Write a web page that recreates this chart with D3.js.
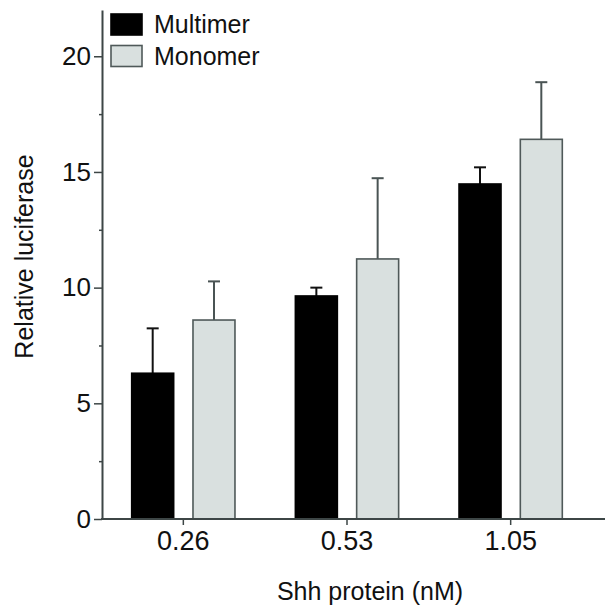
<!DOCTYPE html>
<html>
<head>
<meta charset="utf-8">
<script src="https://cdn.jsdelivr.net/npm/d3@7"></script>
<style>
  body { margin: 0; background: #fff; }
  text { font-family: "Liberation Sans", Arial, sans-serif; fill: #111; }
</style>
</head>
<body>
<div id="container"></div>
<script>
// Chart data
const categories = ["0.26", "0.53", "1.05"];
const seriesNames = ["Multimer", "Monomer"];
const multimerValues = [6.3, 9.64, 14.48];
const multimerErrors = [1.94, 0.36, 0.72];
const monomerValues = [8.6, 11.24, 16.41];
const monomerErrors = [1.67, 3.49, 2.47];
const yTicks = [0, 5, 10, 15, 20];
const yMinorTicks = [2.5, 7.5, 12.5, 17.5];

const width = 605;
const height = 609;
const marginTop = 10;
const marginBottom = 90;
const marginLeft = 102;
const plotRight = 592.5;

const fills = { Multimer: "#000000", Monomer: "#d9e0df" };
const strokes = { Multimer: "#000000", Monomer: "#4f5959" };
const errColors = { Multimer: "#111111", Monomer: "#4a5454" };

// Build rows for the grouped bars
const rows = categories.map((c, i) => ({
  cat: c,
  bars: [
    { key: "Multimer", value: multimerValues[i], err: multimerErrors[i] },
    { key: "Monomer", value: monomerValues[i], err: monomerErrors[i] }
  ]
}));

// Scales
const x0 = d3.scaleBand()
    .domain(categories)
    .range([marginLeft - 0.5, plotRight])
    .paddingInner(0.369)
    .paddingOuter(0.1845);

const x1 = d3.scaleBand()
    .domain(seriesNames)
    .range([0, x0.bandwidth()])
    .paddingInner(0.315);

const y = d3.scaleLinear()
    .domain([0, 22])
    .range([height - marginBottom, marginTop]);

const svg = d3.create("svg")
    .attr("width", width)
    .attr("height", height)
    .attr("viewBox", [0, 0, width, height]);

// Bars
const groups = svg.append("g")
  .selectAll("g")
  .data(rows)
  .join("g")
    .attr("transform", d => `translate(${x0(d.cat)},0)`);

// error bars (drawn first so bar tops cover the stem)
groups.selectAll("g.err")
  .data(d => d.bars)
  .join("g")
    .attr("class", "err")
    .attr("stroke", d => errColors[d.key])
    .attr("stroke-width", 2)
    .each(function(d) {
      const g = d3.select(this);
      const cx = x1(d.key) + x1.bandwidth() / 2;
      g.append("line")
        .attr("x1", cx).attr("x2", cx)
        .attr("y1", y(d.value)).attr("y2", y(d.value + d.err));
      g.append("line")
        .attr("x1", cx - 6).attr("x2", cx + 6)
        .attr("y1", y(d.value + d.err)).attr("y2", y(d.value + d.err));
    });

groups.selectAll("rect")
  .data(d => d.bars)
  .join("rect")
    .attr("x", d => x1(d.key))
    .attr("y", d => y(d.value))
    .attr("width", x1.bandwidth())
    .attr("height", d => y(0) - y(d.value))
    .attr("fill", d => fills[d.key])
    .attr("stroke", d => strokes[d.key])
    .attr("stroke-width", 1.6);

// X axis
svg.append("g")
    .attr("transform", `translate(0,${y(0)})`)
    .call(d3.axisBottom(x0).tickSize(6).tickPadding(6).tickSizeOuter(0))
    .call(g => g.select(".domain").remove())
    .call(g => g.selectAll(".tick line").attr("stroke", "#3d4646").attr("stroke-width", 1.5))
    .call(g => g.selectAll(".tick text").attr("font-size", 27).attr("dy", "0.72em"));

svg.append("line")
    .attr("x1", marginLeft - 1).attr("x2", width)
    .attr("y1", y(0)).attr("y2", y(0))
    .attr("stroke", "#3d4646").attr("stroke-width", 2);

// Y axis
svg.append("g")
    .attr("transform", `translate(${marginLeft},0)`)
    .call(d3.axisLeft(y).tickValues(yMinorTicks).tickSize(3).tickFormat(""))
    .call(g => g.select(".domain").remove())
    .call(g => g.selectAll(".tick line").attr("stroke", "#3d4646").attr("stroke-width", 1.5));

svg.append("g")
    .attr("transform", `translate(${marginLeft},0)`)
    .call(d3.axisLeft(y).tickValues(yTicks).tickSize(8).tickPadding(3).tickSizeOuter(0))
    .call(g => g.select(".domain").attr("stroke", "#3d4646").attr("stroke-width", 2))
    .call(g => g.selectAll(".tick line").attr("stroke", "#3d4646").attr("stroke-width", 1.5))
    .call(g => g.selectAll(".tick text").attr("font-size", 26));

// Axis titles
svg.append("text")
    .attr("transform", `translate(33,${256.5}) rotate(-90)`)
    .attr("text-anchor", "middle")
    .attr("font-size", 25)
    .text("Relative luciferase");

svg.append("text")
    .attr("x", 370)
    .attr("y", 600)
    .attr("text-anchor", "middle")
    .attr("font-size", 25)
    .text("Shh protein (nM)");

// Legend
const legend = svg.append("g")
  .selectAll("g")
  .data(seriesNames)
  .join("g")
    .attr("transform", (d, i) => `translate(111,${14 + i * 31.5})`);

legend.append("rect")
    .attr("width", 31)
    .attr("height", 21)
    .attr("fill", d => fills[d])
    .attr("stroke", d => strokes[d])
    .attr("stroke-width", 1.6);

legend.append("text")
    .attr("x", 43)
    .attr("y", 19)
    .attr("font-size", 25)
    .text(d => d);

container.append(svg.node());
</script>
</body>
</html>
